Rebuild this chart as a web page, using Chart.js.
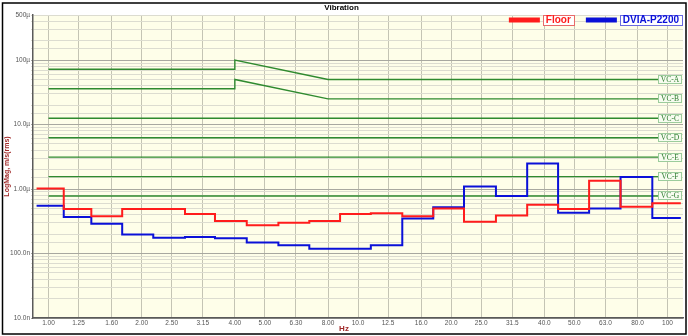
<!DOCTYPE html>
<html>
<head>
<meta charset="utf-8">
<script src="https://cdn.jsdelivr.net/npm/chart.js@4.4.1/dist/chart.umd.min.js"></script>
<style>
  body { margin: 0; background: #fff; }
  #wrap { width: 688px; height: 336px; }
</style>
</head>
<body>
<div id="wrap"><canvas id="vib" width="688" height="336"></canvas></div>
<script>
// 1/3 octave band centres (Hz) and their axis labels
var xTickValues = [1, 1.25, 1.6, 2, 2.5, 3.15, 4, 5, 6.3, 8, 10, 12.5, 16, 20, 25, 31.5, 40, 50, 63, 80, 100];
var xTickLabels = ['1.00', '1.25', '1.60', '2.00', '2.50', '3.15', '4.00', '5.00', '6.30', '8.00', '10.0',
                   '12.5', '16.0', '20.0', '25.0', '31.5', '40.0', '50.0', '63.0', '80.0', '100'];
// band edges (Hz) as drawn in the source plot
var bandEdges = [0.915, 1.12, 1.375, 1.73, 2.18, 2.76, 3.45, 4.37, 5.53, 6.96, 8.75, 11.0,
                 13.9, 17.5, 22.0, 27.9, 35.2, 44.3, 55.8, 70.5, 89.3, 110.4];

// band levels, um/s rms
var floorLevels = [1.02, 0.49, 0.38, 0.49, 0.49, 0.41, 0.32, 0.275, 0.30, 0.32, 0.41,
                   0.42, 0.38, 0.50, 0.31, 0.39, 0.57, 0.49, 1.35, 0.53, 0.60];
var dviaLevels = [0.55, 0.37, 0.29, 0.197, 0.175, 0.18, 0.173, 0.148, 0.134, 0.119, 0.119,
                  0.134, 0.35, 0.52, 1.09, 0.78, 2.49, 0.43, 0.50, 1.54, 0.355];

// vibration criteria, um/s
var vcNames = ['VC-A', 'VC-B', 'VC-C', 'VC-D', 'VC-E', 'VC-F', 'VC-G'];
var vcLevels = [50, 25, 12.5, 6.25, 3.12, 1.56, 0.78];
var vcLowLevels = [72, 36];     // VC-A / VC-B below 4 Hz
var vcPeakLevels = [100, 50];   // VC-A / VC-B at 4 Hz
var vcKnees = [4, 8];

var yTickValues = [0.01, 0.1, 1, 10, 100, 500];
var yTickLabels = ['10.0n', '100.0n', '1.00\u00b5', '10.0\u00b5', '100\u00b5', '500\u00b5'];

var FONT = '"Liberation Sans", Arial, sans-serif';

function bandSteps(levels) {
  var pts = [];
  levels.forEach(function(v, i) {
    pts.push({ x: bandEdges[i], y: v });
    pts.push({ x: bandEdges[i + 1], y: v });
  });
  return pts;
}

function vcCurve(i) {
  var first = xTickValues[0], last = xTickValues[xTickValues.length - 1];
  if (i < vcLowLevels.length) {
    return [
      { x: first, y: vcLowLevels[i] },
      { x: vcKnees[0], y: vcLowLevels[i] },
      { x: vcKnees[0], y: vcPeakLevels[i] },
      { x: vcKnees[1], y: vcLevels[i] },
      { x: last, y: vcLevels[i] }
    ];
  }
  return [{ x: first, y: vcLevels[i] }, { x: last, y: vcLevels[i] }];
}

var datasets = [
  { label: 'Floor', data: bandSteps(floorLevels), borderColor: '#ff1c1c', borderWidth: 2, boxColor: '#e86a6a' },
  { label: 'DVIA-P2200', data: bandSteps(dviaLevels), borderColor: '#0a10d8', borderWidth: 2, boxColor: '#6a6ae0' }
];
vcNames.forEach(function(name, i) {
  datasets.push({ label: name, data: vcCurve(i), borderColor: '#2f8a2f', borderWidth: 1.4, vc: true });
});

function isDecade(v) {
  var l = Math.log10(v);
  return Math.abs(l - Math.round(l)) < 1e-6;
}

var decor = {
  id: 'decor',
  beforeDraw: function(chart) {
    var ctx = chart.ctx, a = chart.chartArea;
    ctx.save();
    ctx.fillStyle = '#ffffff';
    ctx.fillRect(0, 0, chart.width, chart.height);
    ctx.fillStyle = '#fefee9';
    ctx.fillRect(a.left, a.top, a.right - a.left, a.bottom - a.top);
    ctx.restore();
  },
  afterDraw: function(chart) {
    var ctx = chart.ctx, a = chart.chartArea;
    ctx.save();

    // criteria tags at the right end of each green line
    ctx.font = '7.5px "Liberation Serif", "DejaVu Serif", serif';
    ctx.textAlign = 'center';
    ctx.textBaseline = 'middle';
    chart.data.datasets.forEach(function(ds, di) {
      if (!ds.vc) return;
      var meta = chart.getDatasetMeta(di);
      var p = meta.data[meta.data.length - 1];
      var w = 24, h = 9;
      var x = a.right - w - 1, y = Math.round(p.y - h / 2);
      ctx.fillStyle = '#f7fcf0';
      ctx.fillRect(x, y, w, h);
      ctx.strokeStyle = '#9ccc9c';
      ctx.lineWidth = 1;
      ctx.strokeRect(x + 0.5, y + 0.5, w - 1, h - 1);
      ctx.fillStyle = '#2a7a2a';
      ctx.fillText(ds.label, x + w / 2, p.y + 0.5);
    });

    // legend: bar + boxed name, right aligned
    ctx.font = 'bold 10px ' + FONT;
    var x = a.right - 1;
    var ly = 20;
    [1, 0].forEach(function(di) {
      var ds = chart.data.datasets[di];
      var tw = ctx.measureText(ds.label).width;
      var bw = tw + 6;
      var bx = x - bw;
      ctx.fillStyle = '#ffffff';
      ctx.fillRect(bx, ly - 5, bw, 11);
      ctx.strokeStyle = ds.boxColor;
      ctx.lineWidth = 1;
      ctx.strokeRect(Math.round(bx) + 0.5, ly - 4.5, Math.round(bw), 10);
      ctx.fillStyle = ds.borderColor;
      ctx.textAlign = 'center';
      ctx.fillText(ds.label, bx + bw / 2, ly + 0.5);
      var barX = bx - 3 - 31;
      ctx.fillRect(barX, ly - 2.5, 31, 5);
      x = barX - 12;
    });

    // x axis name
    ctx.font = 'bold 8px ' + FONT;
    ctx.fillStyle = '#a02828';
    ctx.textAlign = 'center';
    ctx.fillText('Hz', chart.width / 2, 329);

    // outer frame
    ctx.strokeStyle = '#000000';
    ctx.lineWidth = 1.5;
    ctx.strokeRect(2.5, 3, 683.5, 331);
    ctx.restore();
  }
};

var ctx = document.getElementById('vib').getContext('2d');
var chart = new Chart(ctx, {
  type: 'line',
  data: { datasets: datasets },
  plugins: [decor],
  options: {
    responsive: false,
    animation: false,
    devicePixelRatio: 1,
    events: [],
    layout: { padding: { left: 0, right: 5, top: 0, bottom: 0 } },
    elements: {
      point: { radius: 0 },
      line: { tension: 0, borderCapStyle: 'butt', borderJoinStyle: 'miter' }
    },
    plugins: {
      legend: { display: false },
      tooltip: { enabled: false },
      title: {
        display: true,
        text: 'Vibration',
        color: '#000',
        font: { family: FONT, size: 8, weight: 'bold' },
        padding: { top: 3, bottom: 2.4 }
      }
    },
    scales: {
      x: {
        type: 'logarithmic',
        min: 0.891,
        max: 112.2,
        afterBuildTicks: function(scale) {
          scale.ticks = xTickValues.map(function(v) { return { value: v }; });
        },
        afterFit: function(scale) { scale.height = 18; },
        ticks: {
          autoSkip: false,
          maxRotation: 0,
          minRotation: 0,
          padding: 1,
          color: '#555',
          font: { family: FONT, size: 6.5 },
          callback: function(v, i) { return xTickLabels[i]; }
        },
        grid: { color: '#c4c4b4', lineWidth: 1, drawTicks: false },
        border: { color: '#5a5a5a', width: 1.5 }
      },
      y: {
        type: 'logarithmic',
        min: 0.01,
        max: 500,
        afterFit: function(scale) { scale.width = 33; },
        title: {
          display: true,
          text: 'LogMag, m/s(rms)',
          color: '#a02828',
          font: { family: FONT, size: 7, weight: 'bold' },
          padding: { top: 3, bottom: 0 }
        },
        ticks: {
          autoSkip: false,
          padding: 1,
          color: '#555',
          font: { family: FONT, size: 6.5 },
          callback: function(v) {
            for (var i = 0; i < yTickValues.length; i++) {
              if (Math.abs(yTickValues[i] - v) / yTickValues[i] < 1e-6) return yTickLabels[i];
            }
            return '';
          }
        },
        grid: {
          tickLength: 2,
          color: function(c) { return c.tick && isDecade(c.tick.value) ? '#a8a8a0' : '#dcdcd0'; },
          lineWidth: 1
        },
        border: { color: '#5a5a5a', width: 1.5 }
      }
    }
  }
});
</script>
</body>
</html>
